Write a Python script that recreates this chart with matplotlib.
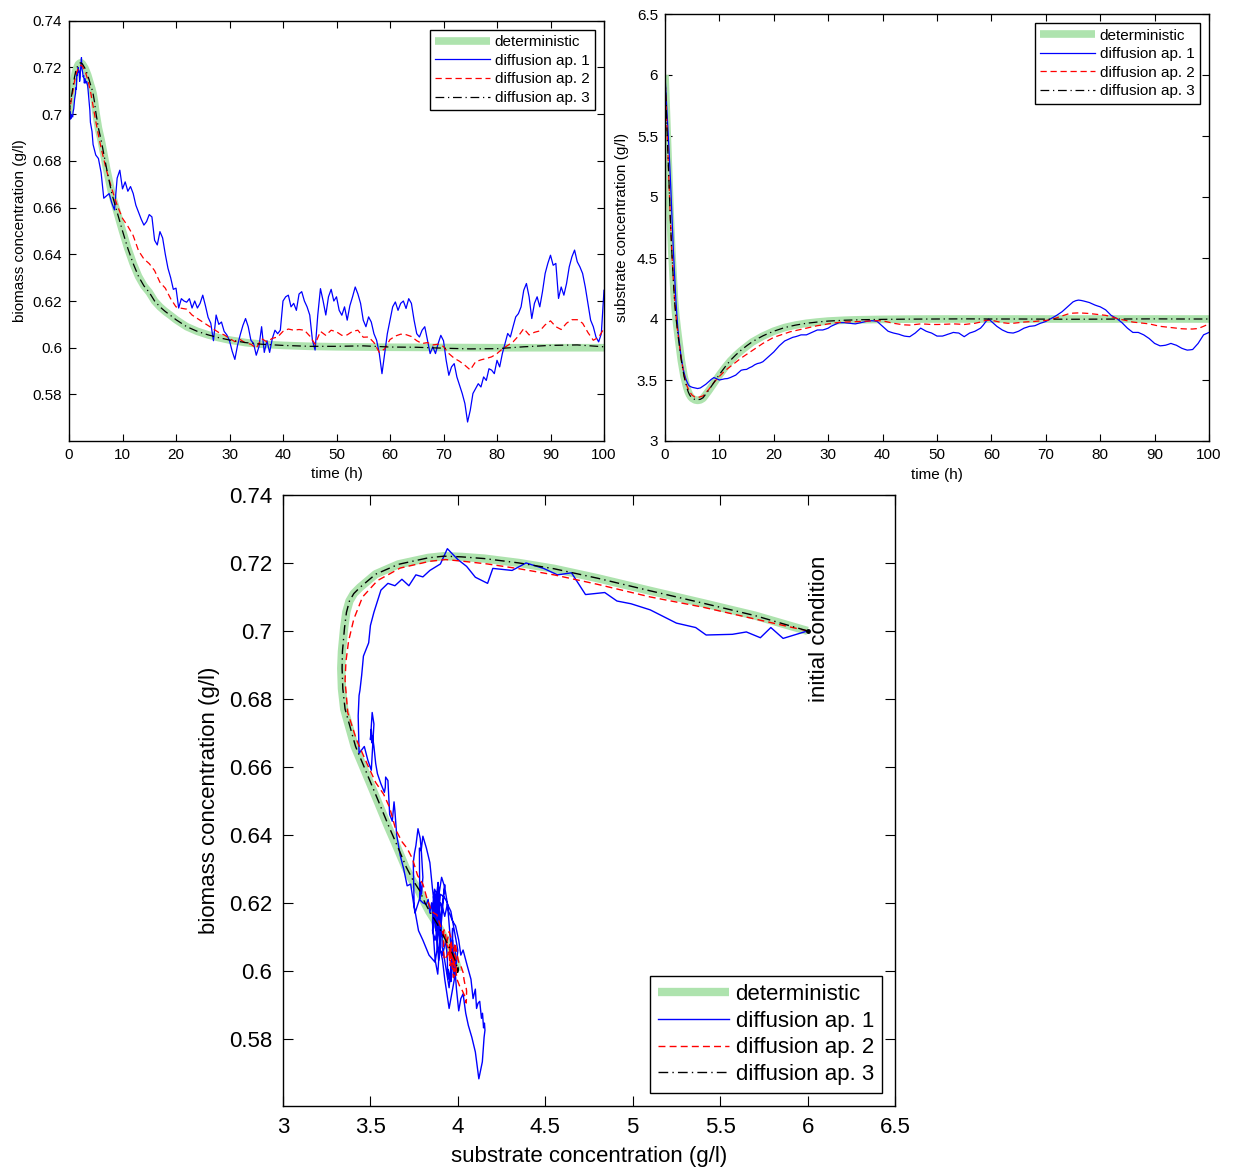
import numpy as np
import matplotlib
matplotlib.use("Agg")
import matplotlib.pyplot as plt
from matplotlib.ticker import FormatStrFormatter

plt.rcParams['font.family'] = ['Liberation Sans', 'DejaVu Sans']

# deterministic solution (time, substrate, biomass)
t_det = [0, 0.25, 0.5, 0.75, 1.0, 1.25, 1.5, 1.75, 2.0, 2.25, 2.5, 3.0, 3.5, 4.0, 4.25, 4.5, 4.75,
         5.0, 5.5, 6.0, 6.5, 7.0, 8.0, 9.0, 10, 11, 12, 13, 14, 15, 16, 17, 18, 19, 20,
         22, 24, 26, 28, 30, 33, 36, 40, 45, 50, 60, 70, 80, 90, 100]
s_det = [6.00, 5.70, 5.40, 5.10, 4.80, 4.55, 4.35, 4.15, 4.02, 3.92, 3.83, 3.66, 3.53, 3.44, 3.405,
         3.38, 3.362, 3.35, 3.337, 3.333, 3.337, 3.35, 3.41, 3.475, 3.54, 3.60, 3.655, 3.70, 3.74,
         3.775, 3.81, 3.835, 3.86, 3.88, 3.90, 3.93, 3.95, 3.965, 3.975, 3.983, 3.99, 3.994, 3.997,
         3.999, 4.0, 4.0, 4.0, 4.0, 4.0, 4.0]
x_det = [0.7000, 0.7045, 0.7082, 0.7118, 0.7155, 0.7183, 0.7200, 0.7213, 0.7218, 0.7220, 0.7215,
         0.7196, 0.7167, 0.7128, 0.7110, 0.7088, 0.7055, 0.7010, 0.6940, 0.6890, 0.6830, 0.6770,
         0.6660, 0.6580, 0.6500, 0.6425, 0.6360, 0.6305, 0.6265, 0.6237, 0.6200, 0.6175, 0.6155,
         0.6138, 0.6120, 0.6090, 0.6070, 0.6055, 0.6043, 0.6033, 0.6022, 0.6015, 0.6010, 0.6006,
         0.6004, 0.6002, 0.6001, 0.6000, 0.6000, 0.6000]

# diffusion approximation 3 (close to deterministic)
t_ap3 = [0, 0.25, 0.5, 0.75, 1.0, 1.25, 1.5, 1.75, 2.0, 2.25, 2.5, 3.0, 3.5, 4.0, 4.25, 4.5, 4.75,
         5.0, 5.5, 6.0, 6.5, 7.0, 8.0, 9.0, 10, 11, 12, 13, 14, 15, 16, 17, 18, 19, 20,
         22, 24, 26, 28, 30, 33, 36, 40, 45, 50, 55, 60, 65, 70, 75, 80, 85, 90, 95, 100]
s_ap3 = [6.00, 5.70, 5.40, 5.10, 4.80, 4.55, 4.35, 4.15, 4.02, 3.92, 3.83, 3.66, 3.53, 3.44, 3.405,
         3.38, 3.363, 3.352, 3.34, 3.338, 3.342, 3.355, 3.415, 3.48, 3.545, 3.605, 3.66, 3.705,
         3.745, 3.78, 3.812, 3.838, 3.862, 3.882, 3.90, 3.93, 3.95, 3.965, 3.975, 3.983, 3.99,
         3.994, 3.997, 3.999, 4.0, 4.001, 4.0, 4.0, 3.999, 3.998, 3.999, 4.0, 4.001, 4.0, 4.0]
x_ap3 = [0.7000, 0.7045, 0.7082, 0.7118, 0.7155, 0.7183, 0.7200, 0.7213, 0.7218, 0.7220, 0.7215,
         0.7196, 0.7167, 0.7128, 0.7110, 0.7088, 0.7055, 0.7010, 0.6940, 0.6890, 0.6830, 0.6770,
         0.6660, 0.6580, 0.6500, 0.6425, 0.6360, 0.6305, 0.6265, 0.6237, 0.6200, 0.6175, 0.6155,
         0.6138, 0.6120, 0.6090, 0.6070, 0.6055, 0.6043, 0.6033, 0.6022, 0.6015, 0.6010, 0.6006,
         0.6006, 0.6008, 0.6003, 0.6002, 0.5998, 0.5995, 0.5996, 0.6004, 0.6010, 0.6012, 0.6004]

# diffusion approximation 2: quarter hours up to 6 h, then hourly readings
t_ap2 = [0, 0.25, 0.5, 0.75, 1.0, 1.25, 1.5, 1.75, 2.0, 2.25, 2.5, 3.0, 3.5, 4.0, 4.5,
         5.0, 5.5, 6.0] + list(range(7, 101))
x_ap2 = [0.700, 0.7035, 0.707, 0.710, 0.7137, 0.7165, 0.7183, 0.7197, 0.7205, 0.721,
         0.7205, 0.7185, 0.7148, 0.710, 0.7035, 0.697, 0.691, 0.6855,
         0.676, 0.668, 0.661,
         0.6554, 0.652, 0.648, 0.6415, 0.638, 0.636, 0.633, 0.628, 0.6255, 0.621,
         0.6175, 0.6169, 0.6165, 0.614, 0.6125, 0.611, 0.6095, 0.608, 0.6065, 0.6055,
         0.604, 0.6026, 0.6035, 0.602, 0.6015, 0.5998, 0.6039, 0.6025, 0.604, 0.6046,
         0.607, 0.608, 0.6075, 0.6078, 0.6075, 0.605, 0.6015, 0.607, 0.6053, 0.6075,
         0.6068, 0.6053, 0.6055, 0.607, 0.6075, 0.6045, 0.6046, 0.6022, 0.598, 0.5995,
         0.6035, 0.605, 0.6058, 0.6056, 0.6048, 0.603, 0.6018, 0.6022, 0.6012, 0.6015,
         0.6005, 0.5975, 0.5955, 0.5942, 0.5925, 0.5905, 0.594, 0.5948, 0.5954, 0.5961,
         0.5975, 0.5995, 0.601, 0.6025, 0.605, 0.6082, 0.6055, 0.6066, 0.6072, 0.6098,
         0.6115, 0.609, 0.6078, 0.6105, 0.612, 0.612, 0.6105, 0.6065, 0.6032, 0.6045,
         0.6082]
s_ap2 = [6.0, 5.7, 5.4, 5.1, 4.8, 4.55, 4.35, 4.17, 4.03, 3.93,
         3.84, 3.67, 3.54, 3.455, 3.405, 3.375, 3.36, 3.355,
         3.37, 3.42, 3.48,
         3.53, 3.575, 3.61, 3.645, 3.68, 3.71, 3.74, 3.77, 3.80, 3.825,
         3.85, 3.865, 3.88, 3.895, 3.905, 3.915, 3.925, 3.935, 3.945, 3.952,
         3.96, 3.967, 3.972, 3.975, 3.977, 3.978, 3.98, 3.982, 3.985, 3.986,
         3.985, 3.975, 3.965, 3.958, 3.952, 3.95, 3.955, 3.96, 3.958, 3.955,
         3.955, 3.956, 3.958, 3.96, 3.958, 3.955, 3.96, 3.965, 3.975, 3.99,
         3.99, 3.98, 3.97, 3.965, 3.965, 3.97, 3.975, 3.978, 3.98, 3.985,
         3.988, 3.995, 4.01, 4.025, 4.04, 4.048, 4.05, 4.048, 4.045, 4.04,
         4.035, 4.03, 4.02, 4.005, 3.995, 3.985, 3.975, 3.97, 3.965, 3.96,
         3.95, 3.94, 3.935, 3.93, 3.925, 3.92, 3.918, 3.918, 3.922, 3.94,
         3.96]

# diffusion approximation 1: fine readings during the fast start, then every half hour
t_ap1 = [0, 0.17, 0.26, 0.34, 0.44, 0.53, 0.70, 0.77, 0.89, 0.94, 1.04, 1.15, 1.22, 1.28,
         1.38, 1.45, 1.53, 1.62, 1.73, 1.82, 1.94, 1.98, 2.08, 2.15, 2.23, 2.33, 2.40, 2.55,
         2.65, 2.75, 2.87, 3.0, 3.15, 3.3, 3.5, 3.75, 3.9, 4.0, 4.3] + \
        [4.5 + 0.5 * i for i in range(192)]
x_ap1 = [0.700, 0.6978, 0.701, 0.698, 0.6997, 0.699, 0.6988, 0.701, 0.7023, 0.7036, 0.7062,
         0.708, 0.7088, 0.7113, 0.7107, 0.7171, 0.7165, 0.7184, 0.720, 0.7178, 0.7184, 0.714,
         0.7158, 0.719, 0.721, 0.7242, 0.7197, 0.7178, 0.7159, 0.7165, 0.7133, 0.7152, 0.7133,
         0.714, 0.712, 0.7055, 0.7016, 0.6965, 0.6926,
         0.687,
         0.6825, 0.681, 0.675, 0.664, 0.665, 0.666, 0.662, 0.659, 0.6726, 0.676,
         0.668, 0.671, 0.667, 0.669, 0.666, 0.661, 0.658, 0.655, 0.6525, 0.654,
         0.657, 0.656, 0.646, 0.644, 0.6497, 0.647, 0.640, 0.634, 0.630, 0.625,
         0.6255, 0.617, 0.621, 0.620, 0.6195, 0.621, 0.617, 0.620, 0.617, 0.619,
         0.6225, 0.618, 0.613, 0.6105, 0.603, 0.614, 0.610, 0.611, 0.607, 0.6055,
         0.603, 0.5985, 0.595, 0.601, 0.6055, 0.6095, 0.6125, 0.609, 0.6032, 0.6018,
         0.5968, 0.6004, 0.609, 0.598, 0.603, 0.598, 0.6039, 0.6075, 0.606, 0.6075,
         0.620, 0.6218, 0.6225, 0.6175, 0.619, 0.616, 0.623, 0.624, 0.620, 0.6175,
         0.614, 0.6032, 0.599, 0.614, 0.6253, 0.620, 0.614, 0.6218, 0.625, 0.620,
         0.6218, 0.616, 0.6139, 0.6175, 0.6118, 0.618, 0.6218, 0.626, 0.623, 0.619,
         0.6118, 0.609, 0.6132, 0.611, 0.606, 0.6032, 0.5975, 0.5889, 0.5975, 0.606,
         0.6118, 0.6175, 0.6196, 0.616, 0.619, 0.620, 0.6168, 0.621, 0.619, 0.6118,
         0.606, 0.6046, 0.6075, 0.609, 0.6032, 0.5975, 0.6004, 0.5975, 0.6018, 0.6053,
         0.603, 0.5946, 0.5882, 0.5918, 0.5932, 0.5875, 0.5839, 0.5804, 0.5761, 0.5682,
         0.5732, 0.5804, 0.5825, 0.5846, 0.5832, 0.5875, 0.586, 0.591, 0.5904, 0.5889,
         0.5946, 0.5918, 0.5975, 0.6018, 0.6061, 0.6046, 0.609, 0.6132, 0.6146, 0.6175,
         0.6246, 0.6275, 0.6218, 0.6125, 0.619, 0.6218, 0.6175, 0.624, 0.6318, 0.6361,
         0.6396, 0.6353, 0.6361, 0.6211, 0.626, 0.6225, 0.6275, 0.6346, 0.6389, 0.6418,
         0.6368, 0.6346, 0.6318, 0.626, 0.619, 0.6118, 0.609, 0.6046, 0.6025, 0.606,
         0.6246]
s_ap1 = [6.0, 5.86, 5.79, 5.73, 5.65, 5.57, 5.42, 5.36, 5.25, 5.2, 5.1, 4.99, 4.91, 4.84,
         4.73, 4.65, 4.57, 4.49, 4.39, 4.31, 4.2, 4.17, 4.1, 4.05, 4.0, 3.94, 3.9, 3.84,
         3.8, 3.76, 3.72, 3.68, 3.64, 3.6, 3.56, 3.52, 3.5, 3.49, 3.46,
         3.45,
         3.44, 3.435, 3.43, 3.435, 3.45, 3.465, 3.485, 3.505, 3.52, 3.51,
         3.50, 3.505, 3.51, 3.512, 3.52, 3.53, 3.54, 3.56, 3.58, 3.585,
         3.587, 3.60, 3.61, 3.625, 3.635, 3.64, 3.65, 3.67, 3.69, 3.71,
         3.73, 3.755, 3.78, 3.80, 3.82, 3.83, 3.84, 3.85, 3.855, 3.862,
         3.87, 3.87, 3.87, 3.88, 3.89, 3.90, 3.91, 3.91, 3.91, 3.917,
         3.925, 3.94, 3.95, 3.96, 3.97, 3.97, 3.97, 3.967, 3.965, 3.962,
         3.96, 3.965, 3.97, 3.975, 3.98, 3.984, 3.986, 3.984, 3.98, 3.96,
         3.94, 3.92, 3.90, 3.892, 3.885, 3.88, 3.875, 3.867, 3.86, 3.857,
         3.855, 3.87, 3.885, 3.905, 3.925, 3.912, 3.90, 3.892, 3.885, 3.872,
         3.86, 3.86, 3.86, 3.867, 3.875, 3.882, 3.89, 3.887, 3.885, 3.87,
         3.855, 3.87, 3.885, 3.892, 3.90, 3.912, 3.925, 3.95, 3.98, 4.0,
         3.98, 3.96, 3.94, 3.925, 3.91, 3.90, 3.89, 3.887, 3.885, 3.892,
         3.90, 3.912, 3.925, 3.932, 3.94, 3.942, 3.945, 3.955, 3.965, 3.972,
         3.98, 3.992, 4.005, 4.017, 4.03, 4.045, 4.06, 4.08, 4.10, 4.12,
         4.14, 4.15, 4.155, 4.152, 4.147, 4.141, 4.135, 4.125, 4.115, 4.107,
         4.10, 4.087, 4.075, 4.052, 4.03, 4.017, 4.005, 3.987, 3.97, 3.947,
         3.925, 3.907, 3.89, 3.89, 3.89, 3.88, 3.87, 3.855, 3.84, 3.82,
         3.80, 3.79, 3.78, 3.782, 3.785, 3.792, 3.80, 3.792, 3.785, 3.772,
         3.76, 3.752, 3.745, 3.747, 3.75, 3.775, 3.80, 3.835, 3.87, 3.88,
         3.89]

labels = ['deterministic', 'diffusion ap. 1', 'diffusion ap. 2', 'diffusion ap. 3']
GREEN = '#aee3ae'


def style_axes(ax, fs, ticklen, pad):
    ax.tick_params(direction='in', top=True, right=True, labelsize=fs,
                   length=ticklen, width=0.8, pad=pad)
    for sp in ax.spines.values():
        sp.set_linewidth(1.0)


def draw(ax, xs, ys, lw_det, lw_thin):
    ax.plot(xs[0], ys[0], color=GREEN, lw=lw_det, solid_capstyle='butt',
            solid_joinstyle='round', label=labels[0])
    ax.plot(xs[1], ys[1], color='#0000ff', lw=lw_thin, label=labels[1])
    ax.plot(xs[2], ys[2], color='#ff0000', lw=lw_thin, ls=(0, (5, 3)), label=labels[2])
    ax.plot(xs[3], ys[3], color='black', lw=lw_thin, ls=(0, (7, 3, 1, 3)), label=labels[3])


def add_legend(ax, loc, fs, hl, ls):
    leg = ax.legend(loc=loc, fontsize=fs, handlelength=hl, labelspacing=ls,
                    borderpad=0.35, handletextpad=0.3, borderaxespad=0.6,
                    fancybox=False, edgecolor='black', framealpha=1)
    leg.get_frame().set_linewidth(1.0)


fig = plt.figure(figsize=(12.36, 11.69), dpi=100)

# biomass vs time
ax1 = fig.add_axes([69 / 1236, 1 - 440.7 / 1169, 535 / 1236, 420 / 1169])
draw(ax1, [t_det, t_ap1, t_ap2, t_ap3], [x_det, x_ap1, x_ap2, x_ap3], 5.5, 0.9)
ax1.set_xlim(0, 100)
ax1.set_ylim(0.5602, 0.74)
ax1.set_xticks(range(0, 101, 10))
ax1.set_yticks(np.arange(0.58, 0.7401, 0.02))
ax1.yaxis.set_major_formatter(FormatStrFormatter('%g'))
ax1.set_xlabel('time (h)', fontsize=11, labelpad=4)
ax1.set_ylabel('biomass concentration (g/l)', fontsize=11, labelpad=4)
style_axes(ax1, 11, 5, 5)
add_legend(ax1, 'upper right', 11, 3.6, 0.3)

# substrate vs time
ax2 = fig.add_axes([665 / 1236, 1 - 441 / 1169, 544 / 1236, 427 / 1169])
draw(ax2, [t_det, t_ap1, t_ap2, t_ap3], [s_det, s_ap1, s_ap2, s_ap3], 5.5, 0.9)
ax2.set_xlim(0, 100)
ax2.set_ylim(3, 6.5)
ax2.set_xticks(range(0, 101, 10))
ax2.set_yticks(np.arange(3, 6.51, 0.5))
ax2.yaxis.set_major_formatter(FormatStrFormatter('%g'))
ax2.set_xlabel('time (h)', fontsize=11, labelpad=4)
ax2.set_ylabel('substrate concentration (g/l)', fontsize=11, labelpad=6)
style_axes(ax2, 11, 5, 5)
add_legend(ax2, 'upper right', 11, 3.6, 0.3)

# phase plane
ax3 = fig.add_axes([283 / 1236, 1 - 1106 / 1169, 612 / 1236, 611 / 1169])
draw(ax3, [s_det, s_ap1, s_ap2, s_ap3], [x_det, x_ap1, x_ap2, x_ap3], 6, 1.0)
ax3.plot([s_det[0]], [x_det[0]], 'o', color='black', ms=2.5)
ax3.text(6.07, 0.679, 'initial condition', rotation=90, ha='center', va='bottom',
         fontsize=16)
ax3.set_xlim(3, 6.5)
ax3.set_ylim(0.5602, 0.74)
ax3.set_xticks(np.arange(3, 6.51, 0.5))
ax3.set_yticks(np.arange(0.58, 0.7401, 0.02))
ax3.xaxis.set_major_formatter(FormatStrFormatter('%g'))
ax3.yaxis.set_major_formatter(FormatStrFormatter('%g'))
ax3.set_xlabel('substrate concentration (g/l)', fontsize=16, labelpad=6)
ax3.set_ylabel('biomass concentration (g/l)', fontsize=16, labelpad=6)
style_axes(ax3, 16, 7, 8)
add_legend(ax3, 'lower right', 16, 3.2, 0.25)

fig.savefig('out.png', dpi=100)
